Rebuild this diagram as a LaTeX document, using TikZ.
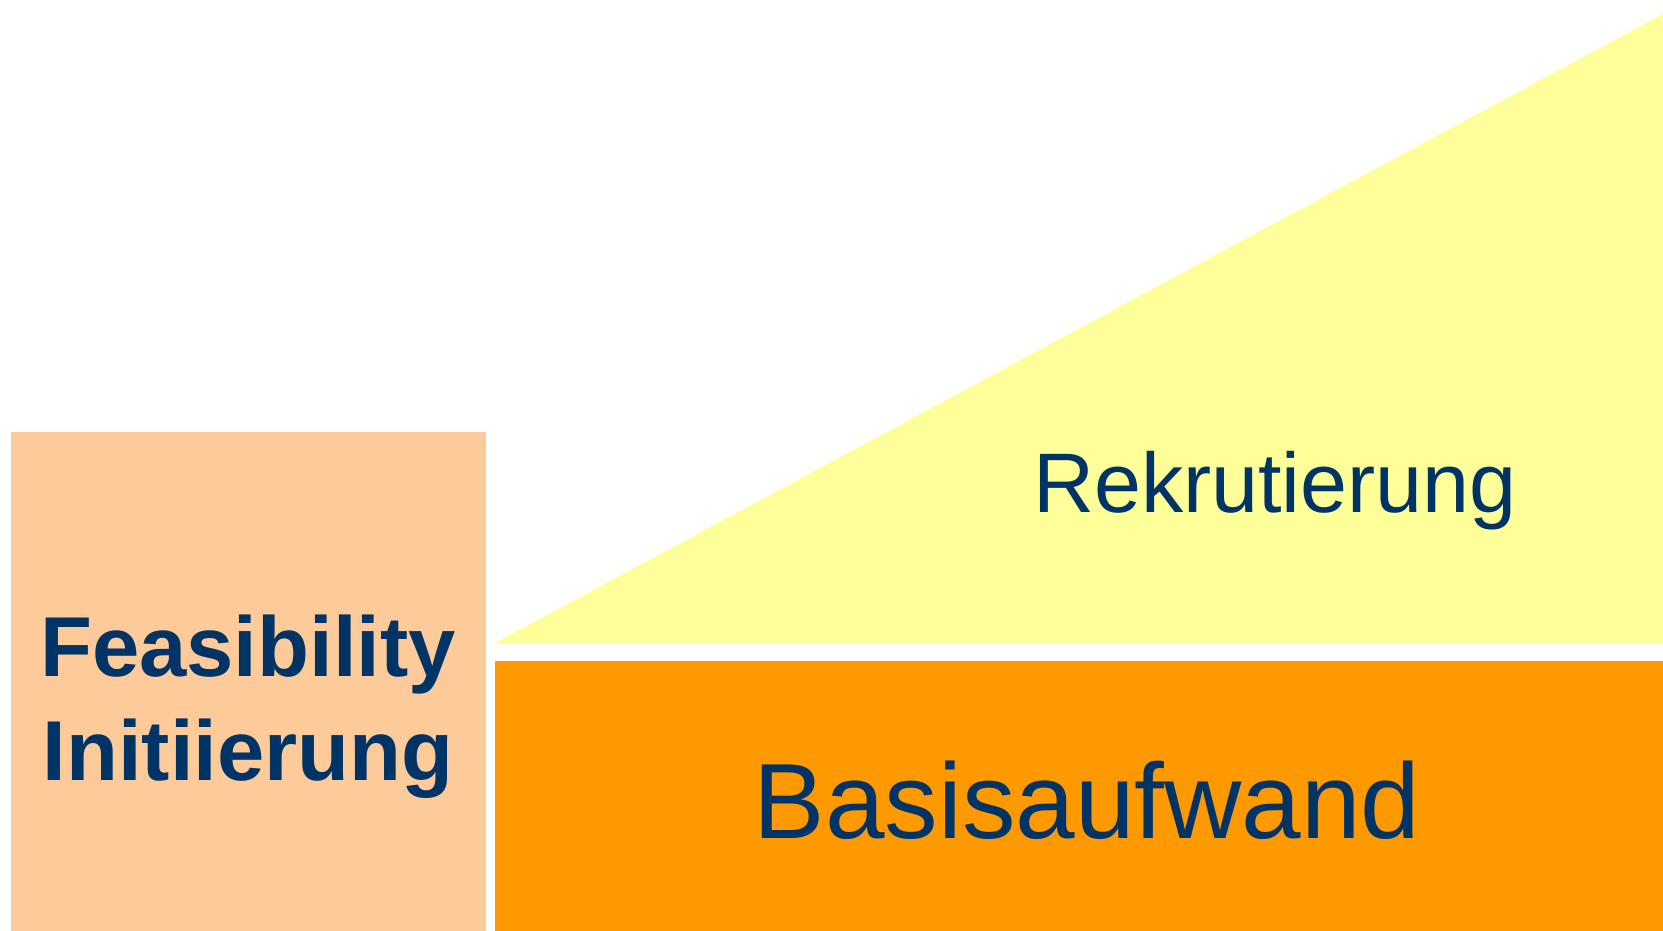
\documentclass[tikz,border=0pt]{standalone}
\usepackage{fontspec}
\setmainfont{Liberation Sans}
\definecolor{peach}{HTML}{FDCB9A}
\definecolor{paleyellow}{HTML}{FFFF99}
\definecolor{darkorange}{HTML}{FF9900}
\definecolor{navy}{HTML}{003366}
\tikzset{
  label text/.style={text=navy, inner sep=0pt, anchor=base},
}
\begin{document}
\begin{tikzpicture}[x=1pt, y=-1pt]
		\useasboundingbox (0,0) rectangle (1663,931);
		% phases
		\fill[color=peach] (11,432) rectangle (486,931);
		\fill[color=paleyellow] (495,643) -- (1663,14) -- (1663,643) -- cycle;
		\fill[color=darkorange] (495,661) rectangle (1663,931);
		% labels
		\node[label text, font=\fontsize{85}{104}\selectfont\bfseries] (feas) at (248,676) {Feasibility};
		\node[label text, font=\fontsize{85}{104}\selectfont\bfseries] (init) at (248,780) {Initiierung};
		\node[label text, font=\fontsize{84.5}{100}\selectfont] (rekr) at (1275,512) {Rekrutierung};
		\node[label text, font=\fontsize{107}{127}\selectfont] (basis) at (1087,838) {Basisaufwand};
	\end{tikzpicture}
\end{document}
